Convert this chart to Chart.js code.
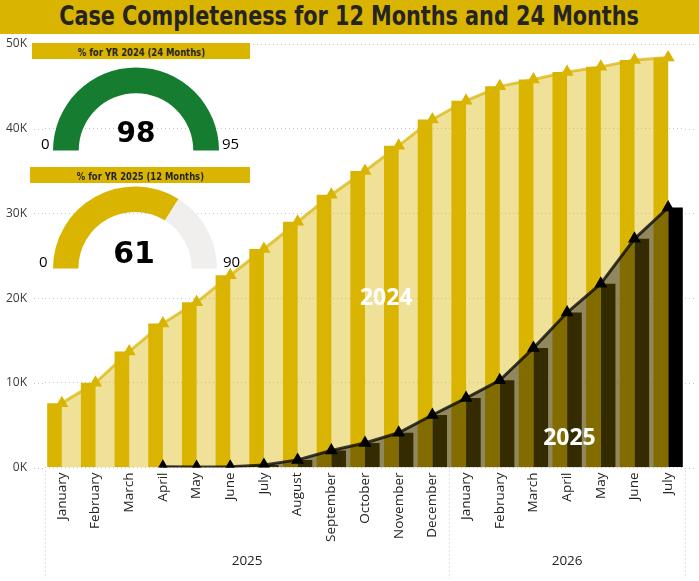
<!DOCTYPE html>
<html>
<head>
<meta charset="utf-8">
<script src="https://cdn.jsdelivr.net/npm/chart.js@4.4.1/dist/chart.umd.min.js"></script>
<style>
  body { margin: 0; width: 699px; height: 581px; overflow: hidden; background: #fff; position: relative; }
  #title {
    position: absolute; left: 0; top: 0; width: 699px; height: 34px; background: #D9B400;
    text-align: center; line-height: 34px; white-space: nowrap;
  }
  #title span {
    display: inline-block; transform: scaleX(0.855);
    font: bold 27px 'Liberation Sans Narrow', 'DejaVu Sans Condensed', sans-serif; color: #252423;
  }
  #main { position: absolute; left: 0; top: 34px; width: 699px; height: 547px; }
  .gtitle {
    position: absolute; height: 16px; background: #D9B400; text-align: center; line-height: 16px; white-space: nowrap;
  }
  .gtitle span {
    display: inline-block; transform: scaleX(0.89); color: #252423;
    font: bold 10.5px 'Liberation Sans Narrow', 'DejaVu Sans Condensed', sans-serif;
  }
  .gauge { position: absolute; }
  .gval { position: absolute; font-family: 'DejaVu Sans', sans-serif; font-weight: bold; color: #000; line-height: 1; text-align: center; }
  .glim { position: absolute; font: 15px 'Open Sans', sans-serif; color: #000; line-height: 1; }
</style>
</head>
<body>
<div id="title"><span>Case Completeness for 12 Months and 24 Months</span></div>
<div id="main"><canvas id="chart"></canvas></div>

<div class="gtitle" style="left:32px;top:43px;width:218px"><span id="gt0"></span></div>
<div class="gauge" style="left:53px;top:67px;width:166px;height:84px"><canvas id="g0"></canvas></div>
<div class="gval" id="gv0" style="left:86px;top:119px;width:100px;font-size:28px"></div>
<div class="glim" id="gmin0" style="left:41px;top:136px"></div>
<div class="glim" id="gmax0" style="left:222px;top:136px"></div>

<div class="gtitle" style="left:30px;top:167px;width:220px"><span id="gt1"></span></div>
<div class="gauge" style="left:53px;top:186px;width:164px;height:83px"><canvas id="g1"></canvas></div>
<div class="gval" id="gv1" style="left:84px;top:238px;width:100px;font-size:30px"></div>
<div class="glim" id="gmin1" style="left:39px;top:254px"></div>
<div class="glim" id="gmax1" style="left:223px;top:254px"></div>

<script>
const months = ['January', 'February', 'March', 'April', 'May', 'June', 'July', 'August',
  'September', 'October', 'November', 'December',
  'January', 'February', 'March', 'April', 'May', 'June', 'July']
const years = ['2025', '2026']
const yearFirst = [0, 12]
const yearLast = [11, 18]

const cases2024 = [7600, 10000, 13700, 17000, 19500, 22700, 25800, 29000, 32200, 35000,
  38000, 41100, 43300, 45000, 45800, 46700, 47300, 48100, 48400]
const cases2025 = [null, null, null, 80, 60, 100, 300, 900, 2000, 2900,
  4100, 6200, 8200, 10300, 14100, 18300, 21700, 27000, 30700]

const yTicks = [0, 10000, 20000, 30000, 40000, 50000]

// white tags inside the areas: text, category position, value
const tagText = ['2024', '2025']
const tagAt = [9.63, 15.07]
const tagValue = [20000, 3400]

const gaugeTitles = ['% for YR 2024 (24 Months)', '% for YR 2025 (12 Months)']
const gaugeValues = [98, 61]
const gaugeMin = [0, 0]
const gaugeMax = [95, 90]
const gaugeColors = ['#157C30', '#D9B400']

const GOLD = '#D9B400'
const GRID = '#C8C6C4'

// power bi draws the gridlines a bit past the outer categories
const gridEdges = {
  id: 'gridEdges',
  beforeDatasetsDraw(chart) {
    const { ctx, scales: { y }, chartArea } = chart
    ctx.save()
    ctx.strokeStyle = GRID
    ctx.lineWidth = 1
    ctx.setLineDash([1, 3])
    yTicks.forEach((v) => {
      const py = Math.round(y.getPixelForValue(v)) + 0.5
      ctx.beginPath()
      ctx.moveTo(34, py)
      ctx.lineTo(chartArea.left, py)
      ctx.moveTo(chartArea.right, py)
      ctx.lineTo(697, py)
      ctx.stroke()
    })
    ctx.restore()
  },
}

const yearGroups = {
  id: 'yearGroups',
  afterDraw(chart) {
    const { ctx, scales: { x }, chartArea } = chart
    ctx.save()
    ctx.strokeStyle = GRID
    ctx.lineWidth = 1
    ctx.setLineDash([1, 3])
    const edges = yearFirst.map((f) => f - 0.5).concat([yearLast[yearLast.length - 1] + 0.5])
    edges.forEach((e) => {
      const px = Math.round(x.getPixelForValue(e)) + 0.5
      ctx.beginPath()
      ctx.moveTo(px, chartArea.bottom + 3)
      ctx.lineTo(px, chart.height - 2)
      ctx.stroke()
    })
    ctx.setLineDash([])
    ctx.fillStyle = '#252423'
    ctx.font = '13.5px "Open Sans"'
    ctx.textAlign = 'center'
    ctx.textBaseline = 'middle'
    years.forEach((yr, i) => {
      const cx = (x.getPixelForValue(yearFirst[i]) + x.getPixelForValue(yearLast[i])) / 2
      ctx.fillText(yr, cx, chart.height - 20)
    })
    ctx.restore()
  },
}

const seriesTags = {
  id: 'seriesTags',
  afterDatasetsDraw(chart) {
    const { ctx, scales: { x, y } } = chart
    ctx.save()
    ctx.fillStyle = '#fff'
    ctx.font = 'bold 23px "Open Sans"'
    ctx.textAlign = 'center'
    ctx.textBaseline = 'middle'
    tagText.forEach((t, i) => {
      ctx.fillText(t, x.getPixelForValue(tagAt[i]), y.getPixelForValue(tagValue[i]))
    })
    ctx.restore()
  },
}

new Chart(document.getElementById('chart'), {
  data: {
    labels: months,
    datasets: [
      {
        type: 'line',
        label: '2024 area',
        data: cases2024,
        borderColor: 'rgba(217,180,0,0.7)',
        borderWidth: 3,
        backgroundColor: 'rgba(217,180,0,0.4)',
        fill: 'origin',
        pointStyle: 'triangle',
        pointRadius: 4.5,
        pointBackgroundColor: GOLD,
        pointBorderColor: GOLD,
        order: 1,
      },
      {
        type: 'line',
        label: '2025 area',
        data: cases2025,
        borderColor: 'rgba(0,0,0,0.75)',
        borderWidth: 3,
        backgroundColor: 'rgba(0,0,0,0.4)',
        fill: 'origin',
        pointStyle: 'triangle',
        pointRadius: 4.5,
        pointBackgroundColor: '#000',
        pointBorderColor: '#000',
        order: 0,
      },
      {
        type: 'bar',
        label: '2024',
        data: cases2024,
        backgroundColor: GOLD,
        categoryPercentage: 0.87,
        barPercentage: 1.0,
        order: 2,
      },
      {
        type: 'bar',
        label: '2025',
        data: cases2025,
        backgroundColor: '#000',
        categoryPercentage: 0.87,
        barPercentage: 1.0,
        order: 3,
      },
    ],
  },
  options: {
    responsive: true,
    maintainAspectRatio: false,
    animation: false,
    layout: { padding: { top: 0, left: 0, right: 14, bottom: 34 } },
    plugins: {
      legend: { display: false },
      tooltip: { enabled: false },
    },
    scales: {
      x: {
        grid: { display: false, drawTicks: false },
        border: { display: false },
        ticks: {
          autoSkip: false,
          minRotation: 90,
          maxRotation: 90,
          padding: 5,
          color: '#252423',
          font: { family: 'Open Sans', size: 13.5 },
        },
      },
      y: {
        min: 0,
        max: 50000,
        afterBuildTicks: (axis) => { axis.ticks = yTicks.map((v) => ({ value: v })) },
        afterFit: (axis) => {
          axis.width = 45
          axis.paddingTop = 10
          axis.paddingBottom = 8
        },
        grid: { color: GRID, drawTicks: false },
        border: { display: false, dash: [1, 3] },
        ticks: {
          padding: 18,
          color: '#3B3A39',
          font: { family: 'Open Sans', size: 12 },
          callback: (v) => `${v / 1000}K`,
        },
      },
    },
  },
  plugins: [gridEdges, yearGroups, seriesTags],
})

gaugeValues.forEach((v, i) => {
  const filled = Math.min(v, gaugeMax[i])
  new Chart(document.getElementById('g' + i), {
    type: 'doughnut',
    data: {
      datasets: [{
        data: [filled, gaugeMax[i] - filled],
        backgroundColor: [gaugeColors[i], '#F0EFEE'],
        borderWidth: 0,
      }],
    },
    options: {
      responsive: true,
      maintainAspectRatio: false,
      animation: false,
      rotation: -90,
      circumference: 180,
      cutout: '69%',
      events: [],
      plugins: { legend: { display: false }, tooltip: { enabled: false } },
    },
  })
  document.getElementById('gt' + i).textContent = gaugeTitles[i]
  document.getElementById('gv' + i).textContent = v
  document.getElementById('gmin' + i).textContent = gaugeMin[i]
  document.getElementById('gmax' + i).textContent = gaugeMax[i]
})
</script>
</body>
</html>
